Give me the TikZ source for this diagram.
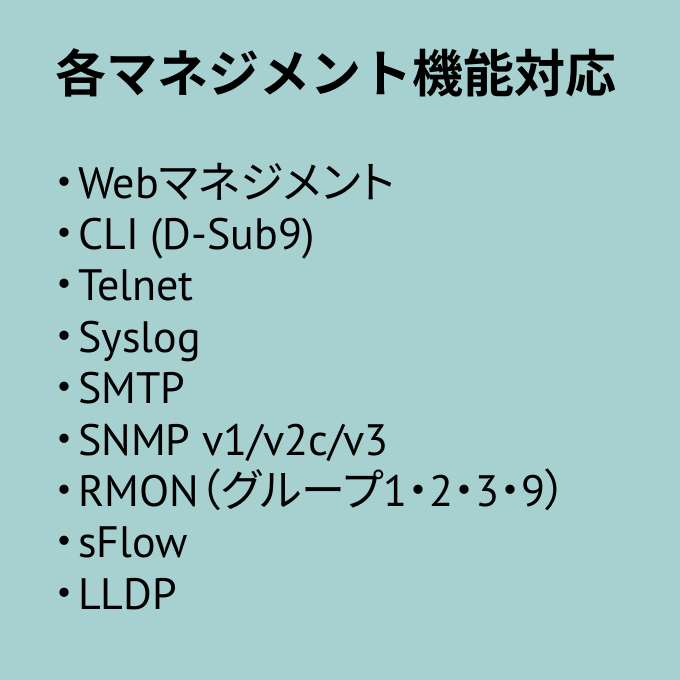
\documentclass[tikz,border=0pt]{standalone}
\usepackage{fontspec}
\setmainfont{Noto Sans CJK JP}
\newfontfamily\titlefont{Noto Sans CJK JP Bold}
\newfontfamily\jp[RawFeature=+palt]{Noto Sans CJK JP}
\newfontfamily\lat{PT Sans}
\definecolor{bgteal}{HTML}{A7D1D0}
\begin{document}
\begin{tikzpicture}[x=1bp,y=-1bp,
  titletext/.style={anchor=base west,inner sep=0pt,font=\titlefont\fontsize{51bp}{51bp}\selectfont},
  bullet/.style={anchor=base,inner sep=0pt,font=\jp\fontsize{44bp}{44bp}\selectfont},
  itemtext/.style={anchor=base west,inner sep=0pt,font=\lat\fontsize{44bp}{44bp}\selectfont}]
\fill[bgteal] (0,0) rectangle (680,680);
\useasboundingbox (0,0) rectangle (680,680);
\node[titletext] (title) at (55,93) {各マネジメント機能対応};
\foreach \i in {1,...,9}{
  \node[bullet] (b\i) at (64,{198+(\i-1)*51.4}) {・};
}
\node[itemtext] (t1) at (78,198.0) {Web{\jp マネジメント}};
\node[itemtext] (t2) at (78,249.4) {CLI (D-Sub9)};
\node[itemtext] (t3) at (78,300.8) {Telnet};
\node[itemtext] (t4) at (78,352.2) {Syslog};
\node[itemtext] (t5) at (78,403.6) {SMTP};
\node[itemtext] (t6) at (78,455.0) {SNMP v1/v2c/v3};
\node[itemtext] (t7) at (78,506.4) {RMON{\jp （グループ}1{\jp ・}2{\jp ・}3{\jp ・}9{\jp ）}};
\node[itemtext] (t8) at (78,557.8) {sFlow};
\node[itemtext] (t9) at (78,609.2) {LLDP};
\end{tikzpicture}
\end{document}
